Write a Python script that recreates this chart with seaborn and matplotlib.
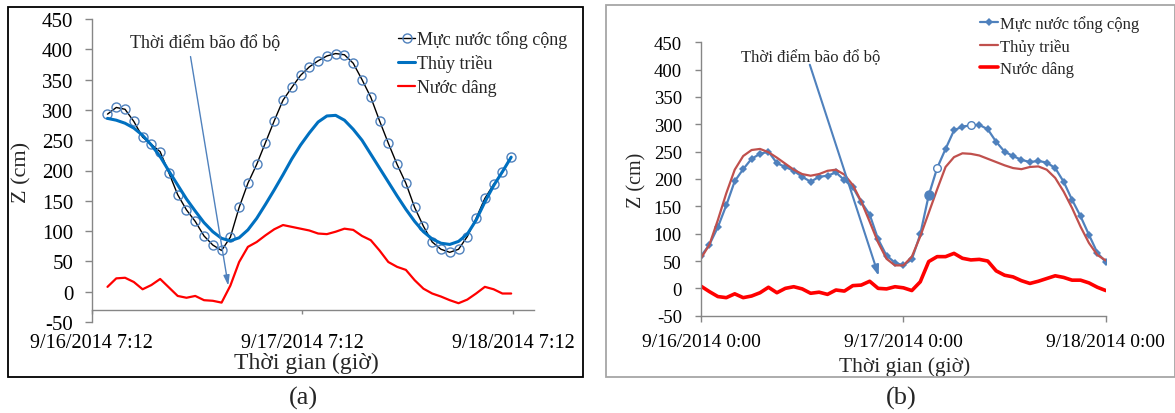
import numpy as np
import matplotlib
matplotlib.use("Agg")
import matplotlib.pyplot as plt
from matplotlib.patches import Rectangle
import seaborn as sns

# ---------------- data (a) : hourly, 9/16 09:00 -> 9/18 07:00 ----------------
hours_a = np.arange(9, 56)  # hours since 9/16/2014 0:00
total_a = [293, 304, 301, 281, 255, 243, 231, 196, 160, 135, 116, 92, 77, 68,
           90, 139, 179, 210, 246, 282, 316, 337, 357, 371, 381, 389, 393, 391,
           377, 350, 321, 282, 245, 210, 179, 139, 108, 82, 70, 65, 70, 91,
           121, 154, 177, 197, 223]
tide_a = [286, 283, 278, 270, 258, 242, 223, 199, 176, 153, 133, 114, 99, 88,
          84, 89, 102, 121, 144, 168, 193, 219, 242, 262, 280, 290, 291, 283,
          268, 250, 227, 204, 181, 158, 136, 116, 99, 87, 80, 78, 83, 95, 118,
          148, 175, 198, 222]
surge_a = [8, 22, 23, 16, 4, 11, 21, 7, -7, -10, -7, -14, -15, -18, 10, 49,
           74, 82, 93, 103, 110, 107, 104, 101, 96, 95, 99, 104, 102, 92, 85,
           68, 49, 41, 36, 19, 5, -3, -8, -14, -19, -13, -3, 8, 4, -3, -3]
ticks_a = [7.2, 31.2, 55.2]
ticklabels_a = ["9/16/2014 7:12", "9/17/2014 7:12", "9/18/2014 7:12"]

# ---------------- data (b) : hourly, 9/16 00:00 -> 9/18 00:00 ----------------
hours_b = np.arange(0, 49)
total_b = [59, 80, 112, 152, 196, 218, 237, 246, 250, 229, 222, 215, 204, 195,
           204, 206, 212, 198, 185, 158, 135, 90, 60, 47, 42, 53, 99, 170, 220,
           255, 289, 296, 298, 299, 291, 268, 250, 242, 235, 231, 233, 230,
           220, 195, 162, 132, 98, 65, 48]
tide_b = [55, 80, 125, 174, 217, 242, 253, 255, 249, 239, 228, 217, 209, 206,
          209, 215, 217, 208, 189, 159, 122, 84, 54, 42, 42, 58, 95, 138, 181,
          222, 240, 247, 246, 243, 237, 231, 225, 220, 218, 222, 223, 217, 202,
          177, 147, 113, 83, 61, 51]
surge_b = [4, -6, -15, -17, -10, -17, -14, -8, 2, -8, 0, 3, -1, -9, -7, -11,
           -3, -5, 5, 6, 13, 0, -1, 3, 1, -4, 12, 49, 58, 58, 64, 55, 52, 53,
           50, 32, 24, 21, 14, 9, 13, 18, 23, 20, 15, 15, 10, 2, -4]
ticks_b = [0, 24, 48]
ticklabels_b = ["9/16/2014 0:00", "9/17/2014 0:00", "9/18/2014 0:00"]

labels = ["Mực nước tổng cộng", "Thủy triều", "Nước dâng"]
note = "Thời điểm bão đổ bộ"

# ---------------- style ----------------
sns.set_theme(style="white")
plt.rcParams["font.family"] = ["Liberation Serif", "DejaVu Serif"]
plt.rcParams["axes.unicode_minus"] = False

W, H = 1175, 414
fig = plt.figure(figsize=(W / 100, H / 100), dpi=100)
GREY = "#868686"


def axes_px(x0, x1, ytop, ybot):
    return fig.add_axes([x0 / W, 1 - ybot / H, (x1 - x0) / W, (ybot - ytop) / H])


def style_axes(ax, ytick_fs, xtick_fs, ylen, xlen, ypad, xpad):
    for s in ["top", "right"]:
        ax.spines[s].set_visible(False)
    for s in ["left", "bottom"]:
        ax.spines[s].set_color(GREY)
        ax.spines[s].set_linewidth(1.0)
    ax.tick_params(axis="y", direction="out", length=ylen, width=1, color=GREY,
                   labelsize=ytick_fs, pad=ypad, left=True, labelcolor="black")
    ax.tick_params(axis="x", direction="out", length=xlen, width=1, color=GREY,
                   labelsize=xtick_fs, pad=xpad, bottom=True, labelcolor="black")
    ax.set_facecolor("none")
    ax.grid(False)


# ---------------- panel (a) ----------------
axA = axes_px(91.7, 534, 20, 323)
sns.lineplot(x=hours_a, y=total_a, ax=axA, color="black", lw=1.0, marker="o",
             markersize=6.5, markerfacecolor="none", markeredgecolor="#4F81BD",
             markeredgewidth=1.0, label=labels[0])
sns.lineplot(x=hours_a, y=tide_a, ax=axA, color="#0070C0", lw=2.2, label=labels[1])
sns.lineplot(x=hours_a, y=surge_a, ax=axA, color="#FF0000", lw=1.6, label=labels[2])
axA.set_xlim(7.2, 57.6)
axA.set_ylim(-50, 450)
axA.set_yticks(np.arange(-50, 451, 50))
axA.set_xticks(ticks_a)
axA.set_xticklabels(ticklabels_a)
style_axes(axA, 15, 14.5, 4.8, 3.2, 8.5, 13.5)
axA.spines["bottom"].set_position(("data", -30))
axA.set_xlabel("Thời gian (giờ)", fontsize=17)
axA.set_ylabel("Z (cm)", fontsize=16)
axA.xaxis.set_label_coords((306 - 91.7) / 442.3, (323 - 363) / 303)
axA.xaxis.label.set_va("center")
axA.yaxis.set_label_coords((22 - 91.7) / 442.3, (323 - 172) / 303)
axA.yaxis.label.set_va("center")
axA.text(20.1, 411, note, fontsize=13, ha="center", va="center")
axA.annotate("", xy=(22.76, 10), xytext=(18.46, 388),
             arrowprops=dict(arrowstyle="-|>,head_length=0.5,head_width=0.15",
                             color="#4F81BD", lw=1.0, shrinkA=0, shrinkB=0))
hA, lA = axA.get_legend_handles_labels()
axA.legend(hA, lA, loc="upper left", bbox_to_anchor=(398 / W, 1 - 31 / H),
           bbox_transform=fig.transFigure, frameon=False, fontsize=13,
           handlelength=0.95, handletextpad=0.1, labelspacing=0.36,
           borderpad=0, borderaxespad=0)

# ---------------- panel (b) ----------------
axB = axes_px(701, 1105.8, 43.3, 316.7)
diamond_idx = [i for i in range(len(hours_b)) if i not in (27, 28, 32)]
sns.lineplot(x=hours_b, y=total_b, ax=axB, color="#4F81BD", lw=1.6, marker="D",
             markersize=4.2, markeredgewidth=0, markevery=diamond_idx,
             label=labels[0])
sns.lineplot(x=hours_b, y=tide_b, ax=axB, color="#C0504D", lw=1.6, label=labels[1])
sns.lineplot(x=hours_b, y=surge_b, ax=axB, color="#FF0000", lw=2.6, label=labels[2])
axB.plot([hours_b[27]], [total_b[27]], "o", color="#4F81BD", ms=6.5)
axB.plot([hours_b[28], hours_b[32]], [total_b[28], total_b[32]], "o",
         mfc="white", mec="#4F81BD", ms=5.5, mew=1)
axB.set_xlim(0, 48)
axB.set_ylim(-50, 450)
axB.set_yticks(np.arange(-50, 451, 50))
axB.set_xticks(ticks_b)
axB.set_xticklabels(ticklabels_b)
style_axes(axB, 13.5, 14, 4.3, 4, 9.5, 8.5)
axB.set_xlabel("Thời gian (giờ)", fontsize=15.5)
axB.set_ylabel("Z (cm)", fontsize=14.5)
axB.xaxis.set_label_coords((905 - 701) / 404.8, (316.7 - 366.7) / 273.4)
axB.xaxis.label.set_va("center")
axB.yaxis.set_label_coords((636.5 - 701) / 404.8, (316.7 - 180) / 273.4)
axB.yaxis.label.set_va("center")
axB.text(13.0, 422.5, note, fontsize=12, ha="center", va="center")
axB.annotate("", xy=(21.07, 23), xytext=(12.9, 409),
             arrowprops=dict(arrowstyle="-|>,head_length=0.5,head_width=0.18",
                             color="#4F81BD", lw=1.5, shrinkA=0, shrinkB=0))
hB, lB = axB.get_legend_handles_labels()
axB.legend(hB, lB, loc="upper left", bbox_to_anchor=(980 / W, 1 - 16 / H),
           bbox_transform=fig.transFigure, frameon=False, fontsize=12,
           handlelength=1.1, handletextpad=0.1, labelspacing=0.38,
           borderpad=0, borderaxespad=0)

# ---------------- frames and captions ----------------
fig.add_artist(Rectangle((7.5 / W, 1 - 377.7 / H), (583 - 7.5) / W, (377.7 - 8.3) / H,
                         transform=fig.transFigure, fill=False, ec="black", lw=1.3))
fig.add_artist(Rectangle((605.6 / W, 1 - 378.3 / H), (1174.5 - 605.6) / W, (378.3 - 6) / H,
                         transform=fig.transFigure, fill=False, ec="#A6A6A6", lw=1.3))
fig.text(303.8 / W, 1 - 398.3 / H, "(a)", fontsize=19, ha="center", va="center")
fig.text(901 / W, 1 - 398 / H, "(b)", fontsize=19, ha="center", va="center")

fig.savefig("out.png", dpi=100)
